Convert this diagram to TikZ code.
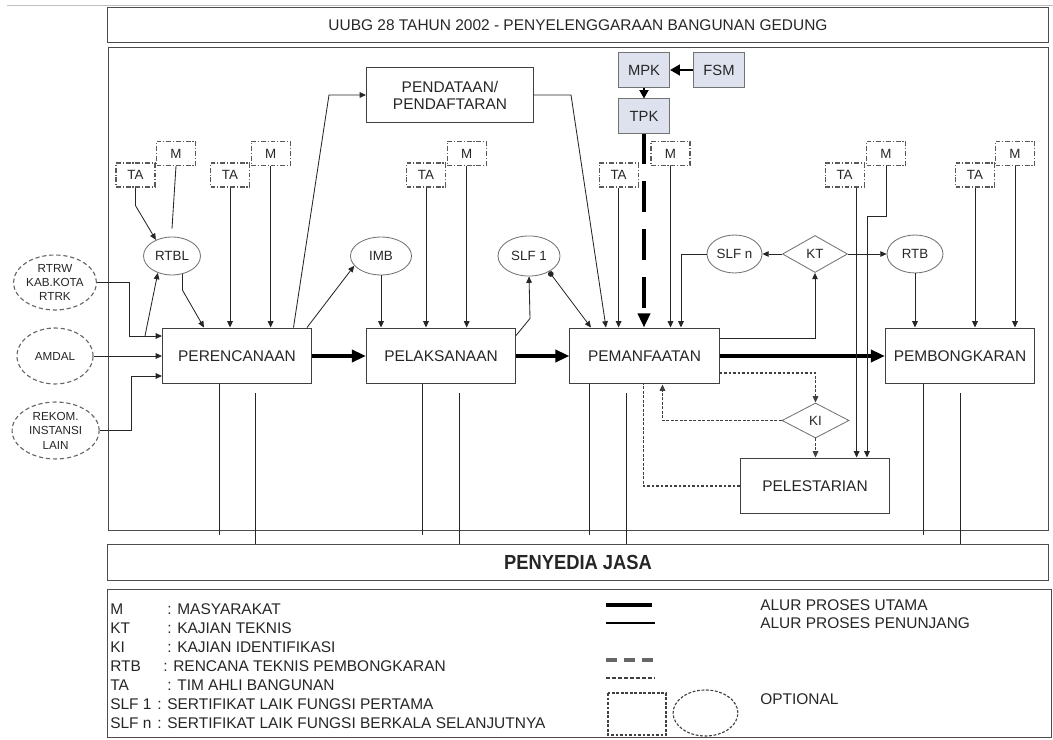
\documentclass[tikz,border=0pt]{standalone}
\usepackage{fontspec}
\setmainfont{Liberation Sans}
\usepackage{graphicx}
\usetikzlibrary{
	arrows.meta,
	calc,
	shapes.geometric,
	positioning
}
\definecolor{komitebiru}{HTML}{DDE2EE}

\tikzset{
	bingkai/.style={draw=black!70, line width=0.7pt},
	proses/.style={draw=black!75, line width=0.7pt, minimum width=106pt, minimum height=39.8pt, inner sep=0pt, font=\fontsize{11}{13}\selectfont},
	komite/.style={draw=black!55, fill=komitebiru, line width=0.7pt, minimum width=36.3pt, minimum height=24.2pt, inner sep=0pt, font=\fontsize{10.5}{12}\selectfont},
	pihak/.style={draw=black!65, line width=0.8pt, dash pattern=on 3.5pt off 1.3pt on 0.8pt off 1.3pt, minimum width=27.7pt, minimum height=17.1pt, inner sep=0pt, font=\fontsize{9.5}{11}\selectfont},
	dokumen/.style={ellipse, draw=black!55, line width=0.6pt, inner sep=0pt, minimum height=27pt, font=\fontsize{9.5}{11}\selectfont},
	kajian/.style={diamond, draw=black!55, line width=0.6pt, inner sep=0pt, aspect=1.75, minimum width=46.2pt, minimum height=26.3pt, font=\fontsize{9.5}{11}\selectfont},
	eksternal/.style={ellipse, draw=black!60, line width=0.8pt, dash pattern=on 3pt off 2pt, inner sep=0pt, align=center, font=\fontsize{8.3}{10.3}\selectfont},
	keterangan/.style={anchor=west, inner sep=0pt, font=\fontsize{11}{13}\selectfont},
	ujung/.style={-{Triangle[length=4.5pt,width=4pt]}},
	polos/.style={draw=black!85, line width=0.6pt},
	penunjang/.style={polos, ujung},
	utama/.style={draw=black, line width=2.8pt, -{Triangle[length=10pt,width=8.5pt]}},
	opsional/.style={draw=black!75, line width=0.8pt, dash pattern=on 2pt off 1.2pt}
}

\begin{document}
\begin{tikzpicture}[x=0.025cm, y=-0.025cm, every node/.style={text=black!85}]

	\useasboundingbox (0,0) rectangle (1053,740);
	\draw[black!25] (7,5) -- (1053,5);

	% bingkai
	\node[bingkai, minimum width=668.6pt, minimum height=24.2pt, font=\fontsize{11}{13}\selectfont] (judul) at (578,25) {UUBG 28 TAHUN 2002 - PENYELENGGARAAN BANGUNAN GEDUNG};
	\draw[bingkai] (108,47) rectangle (1048,530);
	\node[bingkai, minimum width=668.6pt, minimum height=24.9pt] (jasa) at (578,562.5) {\fontsize{14.5}{16}\selectfont\scalebox{0.9}[1]{\bfseries PENYEDIA JASA}};
	\draw[bingkai] (107,589) rectangle (1051,737);

	% tahapan
	\node[proses] (perenc) at (237,356) {PERENCANAAN};
	\node[proses] (pelak) at (441,356) {PELAKSANAAN};
	\node[proses] (peman) at (644.5,356) {PEMANFAATAN};
	\node[proses] (pembong) at (960,356) {PEMBONGKARAN};
	\node[proses] (pelest) at (815,486) {PELESTARIAN};
	\node[proses, minimum width=118.8pt, align=center, font=\fontsize{11}{12}\selectfont] (pendataan) at (450,95) {PENDATAAN/\\PENDAFTARAN};

	\node[komite] (mpk) at (644,70) {MPK};
	\node[komite] (fsm) at (719,70) {FSM};
	\node[komite] (tpk) at (644,116) {TPK};

	% dokumen dan kajian
	\node[dokumen, minimum width=40.5pt] (rtbl) at (172,256) {RTBL};
	\node[dokumen, minimum width=43.4pt] (imb) at (381,256) {IMB};
	\node[dokumen, minimum width=44.1pt, minimum height=28.5pt] (slfa) at (529,256) {SLF 1};
	\node[dokumen, minimum width=39.1pt] (slfn) at (734.5,254) {SLF n};
	\node[dokumen, minimum width=39.8pt] (rtb) at (915,254) {RTB};
	\node[kajian] (kt) at (815,254) {KT};
	\node[kajian, minimum width=47.7pt, minimum height=24.9pt] (ki) at (815.5,420.5) {KI};

	\node[eksternal, minimum width=59pt, minimum height=39.1pt] (rtrw) at (55,282.5) {RTRW\\KAB.KOTA\\RTRK};
	\node[eksternal, minimum width=54.1pt, minimum height=39.8pt] (amdal) at (55,356) {AMDAL};
	\node[eksternal, minimum width=61.9pt, minimum height=40.5pt] (rekom) at (55.6,430.5) {REKOM.\\INSTANSI\\LAIN};

	% TA dan M
	\foreach \n/\x in {A/135.5, B/230, C/426, D/618.6, E/844.6, F/975}
		\node[pihak] (ta\n) at (\x,175) {TA};
	\foreach \n/\x in {A/176, B/270.6, C/466.7, D/670.5, E/886, F/1015}
		\node[pihak] (m\n) at (\x,153.5) {M};

	% alur proses utama
	\draw[utama] (perenc) -- (pelak);
	\draw[utama] (pelak) -- (peman);
	\draw[utama] (peman) -- (pembong);
	\draw[utama, dash pattern=on 22pt off 12pt] (tpk.south) -- (tpk.south |- peman.north);
	\draw[line width=2pt, -{Triangle[length=7pt,width=7.5pt]}] (fsm.west) -- (mpk.east);
	\draw[line width=1pt, -{Triangle[length=6pt,width=6.5pt]}] (mpk.south) -- (tpk.north);

	% masukan perencanaan
	\draw[penunjang] (rtrw.east) -- ++(32,0) |- ($(perenc.west)+(0,-20)$);
	\draw[penunjang] ($(perenc.west)+(-17,-20)$) -- (rtbl.230);
	\draw[penunjang] (amdal.east) -- (perenc.west);
	\draw[penunjang] (rekom.east) -- ++(32,0) |- ($(perenc.west)+(0,20)$);
	\draw[penunjang] (taA.south) -- ++(0,18) -- (rtbl.135);
	\draw[polos] (mA.south) -- ($(rtbl.north)+(0,-8)$);
	\draw[penunjang] (rtbl.-60) -- ++(0,16) -- ($(perenc.north west)+(42,0)$);
	\draw[penunjang] (taB.south) -- (taB.south |- perenc.north);
	\draw[penunjang] (mB.south) -- (mB.south |- perenc.north);
	\draw[penunjang] ($(perenc.north west)+(131.5,0)$) -- ($(pendataan.west)+(-37,0)$) -- (pendataan.west);
	\draw[penunjang] ($(perenc.north east)+(-5,0)$) -- (imb.200);

	% pelaksanaan
	\draw[penunjang] (imb.south) -- (imb.south |- pelak.north);
	\draw[penunjang] (taC.south) -- (taC.south |- pelak.north);
	\draw[penunjang] (mC.south) -- (mC.south |- pelak.north);
	\draw[penunjang] ($(pelak.north east)+(0,8)$) -- ($(slfa.south)+(1,42)$) -- (slfa.south);

	% pemanfaatan
	\draw[penunjang, arrows={Circle[length=4pt]-Triangle[length=4.5pt,width=4pt]}] (slfa.-38) -- ($(peman.north west)+(21.5,0)$);
	\draw[penunjang] (pendataan.east) -- ++(37,0) -- ($(peman.north west)+(36.5,0)$);
	\draw[penunjang] (taD.south) -- (taD.south |- peman.north);
	\draw[penunjang] (mD.south) -- (mD.south |- peman.north);
	\draw[penunjang] (slfn.west) -| ($(peman.north west)+(111.5,0)$);
	\draw[penunjang] ($(peman.north east)+(0,11)$) -| (kt.south);
	\draw[penunjang] (kt.west) -- (slfn.east);
	\draw[penunjang] (kt.east) -- (rtb.west);

	% pembongkaran
	\draw[penunjang] (rtb.south) -- (rtb.south |- pembong.north);
	\draw[penunjang] (taF.south) -- (taF.south |- pembong.north);
	\draw[penunjang] (mF.south) -- (mF.south |- pembong.north);

	% pelestarian
	\coordinate (taEkaki) at ($(taE.south)+(12,0)$);
	\draw[penunjang] (taEkaki) -- (taEkaki |- pelest.north);
	\draw[penunjang] (mE.south) -- ++(0,50) -| ($(pelest.north)+(52,0)$);
	\draw[opsional, ujung] ($(peman.south east)+(0,-11.5)$) -| (ki.north);
	\draw[opsional, ujung] (ki.west) -| ($(peman.south west)+(93,0)$);
	\draw[opsional, ujung] (ki.south) -- (ki.south |- pelest.north);
	\draw[opsional] (pelest.west) -| ($(peman.south west)+(74,0)$);

	% penyedia jasa
	\foreach \b/\p/\q in {perenc/-18/18, pelak/-19/18, peman/-55/-18.5, pembong/-37/0} {
		\draw[polos] ($(\b.south)+(\p,0)$) -- ++(0,151);
		\coordinate (atas) at ($(\b.south)+(\q,9)$);
		\draw[polos] (atas) -- (atas |- jasa.north);
	}

	% keterangan
	\foreach \abk/\isi/\x [count=\i] in {M/MASYARAKAT/167, KT/KAJIAN TEKNIS/167, KI/KAJIAN IDENTIFIKASI/167, RTB/RENCANA TEKNIS PEMBONGKARAN/163, TA/TIM AHLI BANGUNAN/167, SLF 1/SERTIFIKAT LAIK FUNGSI PERTAMA/157, SLF n/SERTIFIKAT LAIK FUNGSI BERKALA SELANJUTNYA/157} {
		\node[keterangan] (abk\i) at (110,590+19*\i) {\abk};
		\node[keterangan] (isi\i) at (\x,590+19*\i) {: \isi};
	}

	\draw[line width=3pt] (606,605) -- (652,605);
	\draw[line width=1.1pt] (606,623) -- (655,623);
	\draw[black!60, line width=2.5pt, dash pattern=on 7.5pt off 5.4pt] (606,660) -- (655,660);
	\draw[black!75, line width=1.1pt, dash pattern=on 2.8pt off 1.5pt] (606,678) -- (655,678);
	\draw[opsional] (608,693) rectangle (666,735);
	\draw[opsional] (705.5,713) ellipse [x radius=0.81cm, y radius=0.575cm];

	\node[keterangan] (kUtama) at (760,605) {ALUR PROSES UTAMA};
	\node[keterangan] (kPenunjang) at (760,623) {ALUR PROSES PENUNJANG};
	\node[keterangan] (kOpsi) at (760,699) {OPTIONAL};

\end{tikzpicture}
\end{document}
